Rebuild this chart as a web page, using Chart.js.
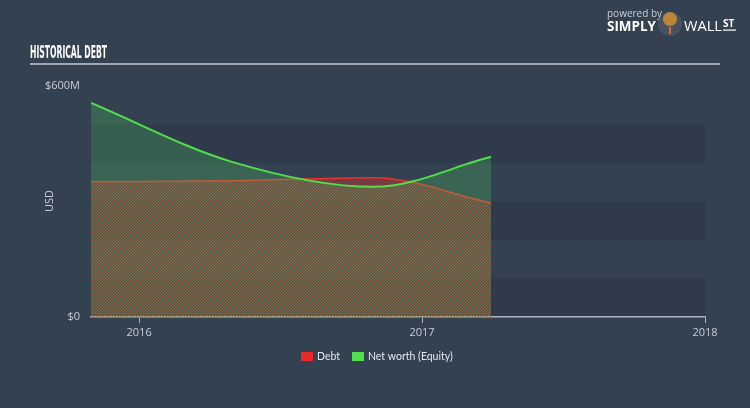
<!DOCTYPE html>
<html>
<head>
<meta charset="utf-8">
<script src="https://cdn.jsdelivr.net/npm/chart.js@4"></script>
<style>
html,body{margin:0;padding:0;background:#344151;}
#wrap{width:750px;height:408px;position:relative;}
</style>
</head>
<body>
<div id="wrap"><canvas id="c" width="750" height="408"></canvas></div>
<script>
// ---- data ----
const dates = ['2015-10-31', '2016-04-30', '2016-10-31', '2017-03-31'];
const debtValues = [351, 354, 362, 296];          // USD millions
const equityValues = [556, 403, 338, 416];        // USD millions
const xTickYears = [2016, 2017, 2018];
const yTickLabels = {0: '$0', 600: '$600M'};
const seriesNames = ['Debt', 'Net worth (Equity)'];
const legendColors = ['#e52a2a', '#4ee04e'];

function toYear(s){
  const d = new Date(s + 'T00:00:00Z');
  const y = d.getUTCFullYear();
  const start = Date.UTC(y,0,1), end = Date.UTC(y+1,0,1);
  return y + (d.getTime()-start)/(end-start);
}
const xs = dates.map(toYear);
const debtData = xs.map((x,i)=>({x, y: debtValues[i]}));
const equityData = xs.map((x,i)=>({x, y: equityValues[i]}));

// hatch pattern (crisp 3px diagonal)
function makePattern(){
  const p = document.createElement('canvas');
  p.width = 3; p.height = 3;
  const g = p.getContext('2d');
  const img = g.createImageData(3,3);
  for (let yy=0; yy<3; yy++) for (let xx=0; xx<3; xx++){
    const m = (xx+yy)%3;
    const k = (yy*3+xx)*4;
    if (m === 2){
      img.data[k]=230; img.data[k+1]=50; img.data[k+2]=42; img.data[k+3]=225;
    } else if (m === 1){
      img.data[k]=230; img.data[k+1]=50; img.data[k+2]=42; img.data[k+3]=60;
    }
  }
  g.putImageData(img,0,0);
  return document.getElementById('c').getContext('2d').createPattern(p,'repeat');
}

const BG = '#344151';
const DARK = '#2f3b4b';

const decor = {
  id: 'decor',
  beforeDraw(chart){
    const ctx = chart.ctx;
    ctx.save();
    ctx.fillStyle = BG;
    ctx.fillRect(0,0,chart.width,chart.height);
    const y = chart.scales.y, a = chart.chartArea;
    ctx.fillStyle = DARK;
    for (let v = 0; v < 600; v += 200){
      const top = y.getPixelForValue(v+100), bot = y.getPixelForValue(v);
      ctx.fillRect(a.left, top, a.right - a.left, bot - top);
    }
    ctx.restore();
  },
  afterDraw(chart){
    const ctx = chart.ctx;
    ctx.save();
    // title
    ctx.fillStyle = '#ffffff';
    ctx.font = 'bold 17px "Liberation Sans Narrow", "DejaVu Sans Condensed", sans-serif';
    ctx.textBaseline = 'alphabetic';
    const t = 'HISTORICAL DEBT';
    const w = ctx.measureText(t).width;
    ctx.translate(30, 58);
    ctx.scale(77 / w, 1);
    ctx.fillText(t, 0, 0);
    ctx.setTransform(1,0,0,1,0,0);
    // rule
    ctx.strokeStyle = '#c3cad3';
    ctx.lineWidth = 1.5;
    ctx.beginPath(); ctx.moveTo(30, 64); ctx.lineTo(720, 64); ctx.stroke();
    // USD
    ctx.fillStyle = '#c9ced5';
    ctx.font = '11px "Open Sans", sans-serif';
    ctx.textAlign = 'center';
    ctx.textBaseline = 'middle';
    ctx.translate(50, 201);
    ctx.rotate(-Math.PI/2);
    ctx.fillText('USD', 0, 0);
    ctx.setTransform(1,0,0,1,0,0);
    // legend
    ctx.textAlign = 'left';
    ctx.font = '10.5px Lato, sans-serif';
    const lx = [301, 352];
    seriesNames.forEach((n,i)=>{
      ctx.fillStyle = legendColors[i];
      ctx.fillRect(lx[i], 352, 12, 9);
      ctx.fillStyle = '#e6e9ed';
      ctx.fillText(n, lx[i] + 16, 357);
    });
    // logo
    ctx.textBaseline = 'alphabetic';
    ctx.fillStyle = '#c9ced5';
    ctx.font = '10px "Open Sans", sans-serif';
    ctx.fillText('powered by', 607, 17);
    ctx.fillStyle = '#ffffff';
    ctx.font = 'bold 14px "Open Sans", sans-serif';
    const sw = ctx.measureText('SIMPLY').width;
    ctx.translate(607, 31);
    ctx.scale(49 / sw, 1);
    ctx.fillText('SIMPLY', 0, 0);
    ctx.setTransform(1,0,0,1,0,0);
    // badge
    ctx.fillStyle = '#4a5260';
    ctx.beginPath(); ctx.arc(670, 24, 12, 0, Math.PI*2); ctx.fill();
    ctx.fillStyle = '#b9863a';
    ctx.beginPath(); ctx.ellipse(670, 19, 7, 7, 0, 0, Math.PI*2); ctx.fill();
    ctx.fillStyle = '#e06a2a';
    ctx.fillRect(669, 27, 2, 7);
    ctx.fillStyle = '#ffffff';
    ctx.font = '14px "Open Sans", sans-serif';
    const ww = ctx.measureText('WALL').width;
    ctx.translate(684, 31);
    ctx.scale(38 / ww, 1);
    ctx.fillText('WALL', 0, 0);
    ctx.setTransform(1,0,0,1,0,0);
    ctx.font = 'bold 10px "Open Sans", sans-serif';
    ctx.fillText('ST', 723, 27);
    ctx.fillRect(723, 29.5, 13, 1.2);
    ctx.restore();
  }
};

const chart = new Chart(document.getElementById('c'), {
  type: 'line',
  data: {
    datasets: [
      {
        label: seriesNames[0],
        data: debtData,
        borderColor: '#e8352c',
        borderWidth: 1.5,
        backgroundColor: makePattern(),
        fill: 'origin',
        pointRadius: 0,
        cubicInterpolationMode: 'monotone',
        order: 1
      },
      {
        label: seriesNames[1],
        data: equityData,
        borderColor: '#4fe049',
        borderWidth: 2,
        backgroundColor: 'rgba(78,214,90,0.24)',
        fill: 'origin',
        pointRadius: 0,
        cubicInterpolationMode: 'monotone',
        order: 0
      }
    ]
  },
  plugins: [decor],
  options: {
    responsive: false,
    animation: false,
    layout: { padding: { top: 86, left: 0, right: 45, bottom: 65 } },
    plugins: {
      tooltip: { enabled: false },
      legend: { display: false }
    },
    scales: {
      x: {
        type: 'linear',
        min: 2015.83,
        max: 2018,
        afterBuildTicks(s){ s.ticks = xTickYears.map(v=>({value: v})); },
        afterFit(s){ s.height = 26; },
        ticks: {
          color: '#c9ced5',
          font: { size: 11, family: '"Open Sans", sans-serif' },
          padding: 3,
          maxRotation: 0,
          autoSkip: false,
          callback: v => String(v)
        },
        grid: { drawOnChartArea: false, drawTicks: true, tickLength: 6, color: '#aab4c0' },
        border: { display: true, color: '#aab4c0', width: 1.5 }
      },
      y: {
        min: 0, max: 600,
        afterFit(s){ s.width = 91; },
        ticks: {
          stepSize: 100,
          color: '#c9ced5',
          font: { size: 11, family: '"Open Sans", sans-serif' },
          padding: 11,
          autoSkip: false,
          callback: v => (yTickLabels[v] !== undefined ? yTickLabels[v] : '')
        },
        grid: { display: false, drawTicks: false },
        border: { display: false }
      }
    }
  }
});
</script>
</body>
</html>
